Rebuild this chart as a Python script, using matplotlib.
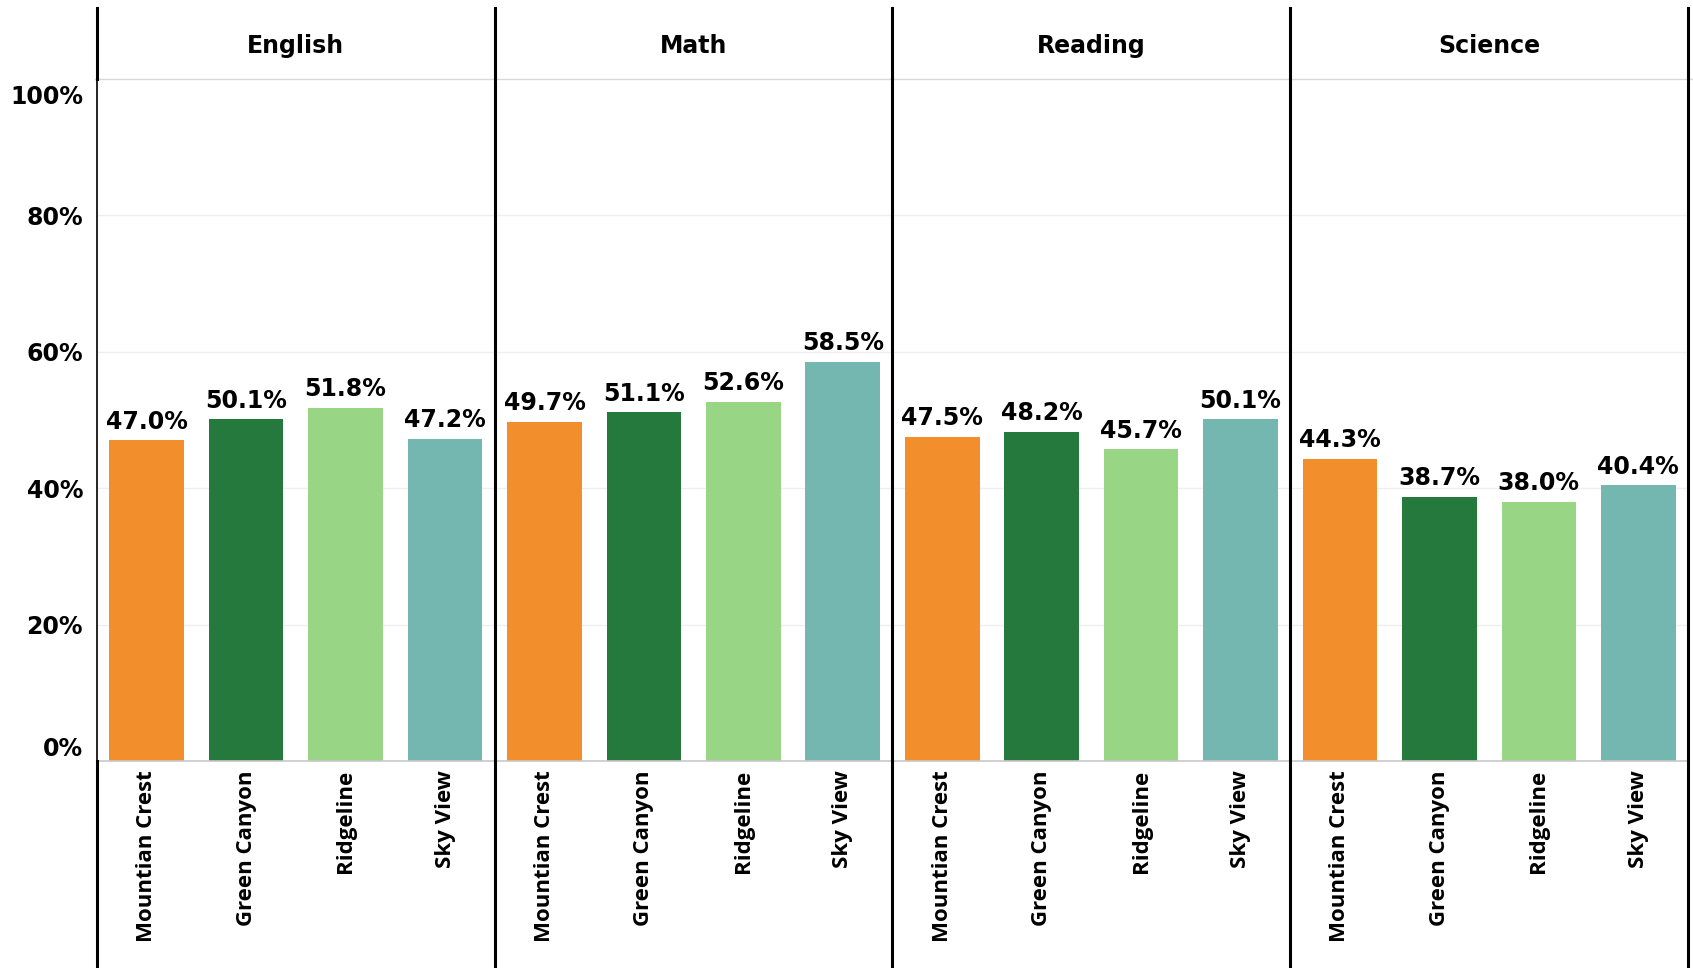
import matplotlib
matplotlib.use('Agg')
import matplotlib.pyplot as plt
from matplotlib.lines import Line2D
import matplotlib.transforms as mtransforms

subjects = ['English', 'Math', 'Reading', 'Science']
schools = ['Mountian Crest', 'Green Canyon', 'Ridgeline', 'Sky View']
english = [47.0, 50.1, 51.8, 47.2]
math_scores = [49.7, 51.1, 52.6, 58.5]
reading = [47.5, 48.2, 45.7, 50.1]
science = [44.3, 38.7, 38.0, 40.4]
values = [english, math_scores, reading, science]
colors = ['#F28E2B', '#26793C', '#98D686', '#74B7B1']
yticks = [0, 20, 40, 60, 80, 100]
ytick_labels = ['0%', '20%', '40%', '60%', '80%', '100%']

W, H = 1693, 968
fig = plt.figure(figsize=(W / 100, H / 100), dpi=100)
left_px, right_px = 97, 1688
top_px, bottom_px = 79, 761
panel_w = (right_px - left_px) / 4

val_font = dict(family='DejaVu Sans', fontweight='bold', fontsize=17)

for i, (subj, vals) in enumerate(zip(subjects, values)):
    x0 = left_px + i * panel_w
    ax = fig.add_axes([x0 / W, (H - bottom_px) / H, panel_w / W, (bottom_px - top_px) / H])
    ax.bar(range(len(schools)), vals, width=0.75, color=colors, zorder=2)
    ax.set_xlim(-0.5, 3.5)
    ax.set_ylim(0, 100)
    for s in ax.spines.values():
        s.set_visible(False)
    for y in [20, 40, 60, 80]:
        ax.axhline(y, color='#efefef', lw=1, zorder=0)
    ax.axhline(0, color='#c8c8c8', lw=1.2, zorder=3, clip_on=False)
    ax.set_xticks(range(len(schools)))
    ax.set_xticklabels(schools, rotation=90, family='Open Sans', fontweight='bold',
                       fontsize=16, va='top', ha='center')
    ax.tick_params(axis='x', length=0, pad=6.5)
    if i == 0:
        ax.set_yticks(yticks)
        ax.set_yticklabels(ytick_labels, family='DejaVu Sans', fontweight='bold', fontsize=17)
        ax.tick_params(axis='y', length=0, pad=10)
        labs = ax.get_yticklabels()
        labs[0].set_transform(labs[0].get_transform() +
                              mtransforms.ScaledTranslation(0, 15 / 100, fig.dpi_scale_trans))
        labs[-1].set_transform(labs[-1].get_transform() +
                               mtransforms.ScaledTranslation(0, -16 / 100, fig.dpi_scale_trans))
    else:
        ax.set_yticks([])
    for j, v in enumerate(vals):
        ax.annotate(f'{v:.1f}%', (j, v), xytext=(0, 8.5), textcoords='offset points',
                    ha='center', va='baseline', **val_font)
    fig.text((x0 + panel_w / 2) / W, 1 - 53 / H, subj, ha='center', va='baseline',
             family='DejaVu Sans', fontweight='bold', fontsize=17)

# header separator / 100% line
fig.add_artist(Line2D([95 / W, 1.0], [1 - top_px / H, 1 - top_px / H],
                      transform=fig.transFigure, color='#d8d8d8', lw=1))

# panel dividers
for i in range(1, 5):
    x = (left_px + i * panel_w) / W
    fig.add_artist(Line2D([x, x], [0, 1 - 8 / H], transform=fig.transFigure,
                          color='black', lw=2.2))
# left axis line
xl = left_px / W
fig.add_artist(Line2D([xl, xl], [1 - top_px / H, 1 - 8 / H], transform=fig.transFigure, color='black', lw=2.2))
fig.add_artist(Line2D([xl, xl], [0, 1 - bottom_px / H], transform=fig.transFigure, color='black', lw=2.2))
fig.add_artist(Line2D([xl, xl], [1 - bottom_px / H, 1 - top_px / H], transform=fig.transFigure, color='black', lw=1.2))

fig.savefig('out.png', dpi=100)
